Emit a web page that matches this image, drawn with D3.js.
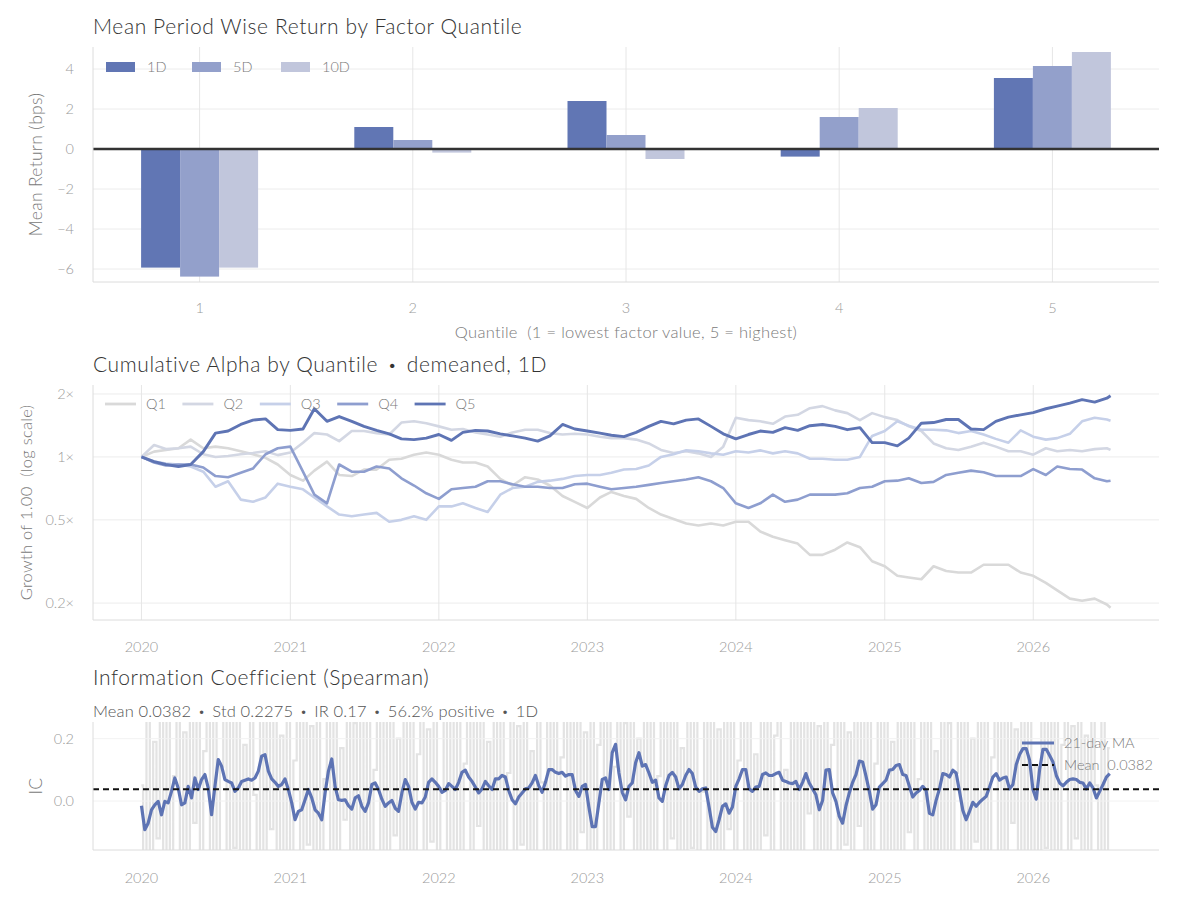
<!DOCTYPE html>
<html>
<head>
<meta charset="utf-8">
<script src="https://cdn.jsdelivr.net/npm/d3@7"></script>
<style>
  body { margin: 0; background: #fff; }
  svg text { font-family: Lato, Inter, sans-serif; font-weight: 300; white-space: pre; }
  svg tspan.dot { font-weight: 900; }
</style>
</head>
<body>
<svg id="chart" width="1177" height="903"></svg>
<script>
// ---------- data ----------
const quantiles = ["1", "2", "3", "4", "5"];
const periods = ["1D", "5D", "10D"];
const ret1D = [-5.93, 1.1, 2.4, -0.38, 3.55];
const ret5D = [-6.38, 0.45, 0.7, 1.6, 4.15];
const ret10D = [-5.93, -0.18, -0.5, 2.05, 4.85];
const barTicks = [-6, -4, -2, 0, 2, 4];

// cumulative alpha, sampled on the 1st of each month from Jan 2020 + last day
const cumDates = d3.timeMonth.range(new Date(2020, 0, 1), new Date(2026, 6, 2)).concat([new Date(2026, 6, 10)]);
const q1 = [1.00,1.06,1.08,1.10,1.21,1.10,1.12,1.10,1.065,1.03,0.99,0.92,0.82,0.77,0.86,0.95,0.82,0.81,0.87,0.87,
  0.97,0.98,1.025,1.05,1.025,0.97,0.94,0.94,0.90,0.785,0.73,0.80,0.78,0.73,0.65,0.61,0.57,0.64,0.68,
  0.65,0.63,0.57,0.53,0.505,0.48,0.47,0.48,0.47,0.49,0.49,0.44,0.415,0.40,0.385,0.34,0.34,0.36,0.39,0.37,
  0.317,0.30,0.27,0.265,0.26,0.30,0.285,0.28,0.28,0.305,0.305,0.305,0.28,0.27,0.25,0.23,0.21,0.205,0.21,0.197,0.19];
const q2 = [1.00,1.14,1.09,1.10,1.12,1.03,1.00,1.01,1.03,1.045,1.065,1.02,1.05,1.17,1.30,1.28,1.19,1.33,1.33,1.30,
  1.28,1.46,1.48,1.45,1.40,1.35,1.36,1.31,1.28,1.25,1.31,1.35,1.35,1.30,1.28,1.29,1.28,1.25,1.23,
  1.23,1.21,1.16,1.08,1.045,1.065,1.04,1.00,1.12,1.54,1.50,1.48,1.44,1.56,1.59,1.71,1.75,1.67,1.62,1.50,
  1.62,1.55,1.50,1.40,1.33,1.16,1.10,1.08,1.12,1.17,1.12,1.065,1.065,1.025,1.10,1.065,1.08,1.065,1.09,1.10,1.08];
const q3 = [1.00,0.95,0.93,0.92,0.90,0.85,0.72,0.765,0.625,0.61,0.64,0.745,0.72,0.70,0.64,0.58,0.53,0.52,0.53,0.54,
  0.49,0.50,0.52,0.50,0.58,0.58,0.60,0.57,0.545,0.66,0.71,0.72,0.76,0.77,0.785,0.81,0.82,0.82,0.84,
  0.87,0.875,0.91,1.00,1.03,1.075,1.065,1.04,1.025,1.065,1.05,1.075,1.04,1.065,1.04,0.98,0.98,0.97,0.97,1.00,
  1.26,1.33,1.48,1.41,1.35,1.35,1.34,1.30,1.33,1.28,1.22,1.17,1.34,1.25,1.21,1.23,1.29,1.48,1.54,1.51,1.49];
const q4 = [1.00,0.94,0.91,0.92,0.92,0.89,0.81,0.80,0.84,0.88,1.03,1.10,1.12,0.85,0.66,0.60,0.92,0.85,0.85,0.90,
  0.88,0.79,0.73,0.67,0.63,0.70,0.71,0.72,0.765,0.765,0.74,0.72,0.72,0.71,0.71,0.74,0.745,0.72,0.70,
  0.71,0.72,0.735,0.75,0.765,0.78,0.80,0.765,0.71,0.60,0.57,0.60,0.66,0.61,0.625,0.66,0.66,0.66,0.67,0.71,
  0.72,0.765,0.77,0.79,0.75,0.76,0.82,0.84,0.86,0.845,0.81,0.81,0.81,0.875,0.82,0.90,0.875,0.87,0.79,0.765,0.77];
const q5 = [1.00,0.95,0.92,0.90,0.92,1.06,1.30,1.33,1.43,1.50,1.52,1.35,1.34,1.36,1.70,1.48,1.56,1.48,1.40,1.34,
  1.29,1.22,1.21,1.23,1.28,1.20,1.31,1.34,1.33,1.29,1.26,1.23,1.19,1.26,1.43,1.36,1.33,1.30,1.27,
  1.25,1.31,1.40,1.48,1.44,1.50,1.52,1.40,1.29,1.22,1.28,1.33,1.31,1.38,1.34,1.41,1.43,1.40,1.35,1.38,
  1.17,1.17,1.13,1.23,1.45,1.46,1.51,1.51,1.36,1.35,1.48,1.55,1.59,1.63,1.70,1.75,1.81,1.88,1.83,1.91,1.96];
const cumSeries = [
  { name: "Q1", values: q1, color: "#d9d9d9" },
  { name: "Q2", values: q2, color: "#d3d7e3" },
  { name: "Q3", values: q3, color: "#c6d0e9" },
  { name: "Q4", values: q4, color: "#8e9ecf" },
  { name: "Q5", values: q5, color: "#5e74b4" }
];
const cumTicks = [0.2, 0.5, 1, 2];

// information coefficient, evenly spaced from 2020-01-01 to 2026-07-08
const icMA = [-0.015,-0.092,-0.071,-0.028,-0.012,-0.001,-0.044,-0.001,-0.006,0.031,0.074,0.042,-0.012,-0.006,0.047,0.010,0.074,0.037,0.069,0.085,
  0.042,-0.044,0.047,0.133,0.112,0.069,0.063,0.058,0.031,0.042,0.063,0.067,0.071,0.067,0.074,0.096,0.144,0.149,0.096,0.071,
  0.060,0.047,0.053,0.071,0.037,-0.006,-0.060,-0.033,-0.028,0.004,0.037,0.010,-0.028,-0.039,-0.060,0.026,0.096,0.135,0.047,0.004,
  0.002,0.004,-0.015,-0.026,0.010,0.017,-0.017,-0.033,-0.006,0.053,0.058,0.037,0.006,-0.017,-0.006,0.002,-0.023,-0.033,0.026,0.069,
  0.047,-0.004,-0.026,-0.004,-0.006,0.013,0.060,0.071,0.060,0.047,0.028,0.034,0.056,0.047,0.037,0.060,0.092,0.099,0.077,0.063,
  0.045,0.026,0.039,0.063,0.049,0.037,0.071,0.071,0.082,0.077,0.034,0.004,-0.009,0.013,0.026,0.039,0.042,0.058,0.082,0.049,
  0.028,0.060,0.101,0.101,0.092,0.088,0.092,0.080,0.085,0.085,0.034,0.015,0.047,0.053,-0.019,-0.082,-0.082,-0.006,0.069,0.074,
  0.037,0.155,0.182,0.090,0.028,0.004,0.047,
  0.058,0.123,0.155,0.112,0.117,0.090,0.060,0.067,0.010,-0.001,0.049,0.082,0.092,0.077,0.039,0.053,0.082,0.101,0.088,0.045,
  0.031,0.039,0.042,-0.019,-0.084,-0.098,-0.060,-0.017,-0.009,-0.039,-0.019,0.047,0.071,0.101,0.101,0.039,0.031,0.045,0.047,0.085,
  0.090,0.082,0.082,0.088,0.092,0.067,0.063,0.058,0.056,0.063,0.037,0.060,0.088,0.058,0.039,0.020,-0.028,0.002,0.099,0.101,
  0.026,-0.001,-0.049,-0.071,-0.015,0.026,0.060,0.085,0.128,0.125,0.080,0.031,-0.026,-0.012,0.045,0.056,0.067,0.099,0.101,0.114,
  0.117,0.085,0.082,0.047,0.013,0.026,0.034,0.047,0.034,-0.039,-0.044,0.002,0.039,0.088,0.085,0.077,0.099,0.090,0.031,-0.030,
  -0.060,-0.033,-0.004,-0.017,-0.004,0.006,0.015,0.045,0.077,0.088,0.067,0.074,0.077,0.039,0.053,0.117,0.149,0.168,0.168,0.131,
  0.037,0.006,0.101,0.166,0.166,0.146,0.125,0.082,0.058,0.049,0.060,0.069,0.071,0.069,0.060,0.058,0.039,0.058,0.042,0.010,
  0.031,0.053,0.077,0.088];
const icRaw = [0.05,-0.32,0.28,-0.41,0.19,-0.12,0.37,-0.29,0.44,-0.18,0.08,0.33,-0.36,0.22,-0.25,0.41,-0.07,0.30,-0.44,0.16,
  0.35,-0.21,0.47,-0.33,0.11,0.26,-0.39,0.32,-0.15,0.43,-0.28,0.18,-0.46,0.39,0.02,-0.24,0.34,-0.31,0.27,-0.09,
  0.45,-0.37,0.21,-0.19,0.38,-0.43,0.13,0.31,-0.27,0.49,-0.14,0.24,-0.34,0.36,-0.22,0.07,0.42,-0.30,0.29,-0.40,
  0.17,-0.06,0.40,-0.35,0.25,-0.26,0.46,-0.16,0.33,-0.42,0.10,0.37,-0.23,0.28,-0.38,0.44,-0.11,0.20,-0.31,0.35,
  -0.20,0.48,-0.36,0.15,0.30,-0.45,0.23,-0.13,0.41,-0.29,0.04,0.34,-0.40,0.27,-0.17,0.45,-0.33,0.12,0.39,-0.25,
  0.32,-0.08,0.43,-0.38,0.19,-0.28,0.36,-0.21,0.50,-0.34,0.09,0.29,-0.43,0.24,-0.14,0.40,-0.27,0.16,-0.37,0.33,
  0.06,-0.30,0.42,-0.19,0.27,-0.41,0.14,0.38,-0.24,0.31,-0.35,0.47,-0.10,0.22,-0.32,0.36,-0.44,0.18,0.26,-0.16,
  0.39,-0.27,0.11,0.45,-0.39,0.25,-0.05,0.34,-0.31,0.20,-0.42,0.43,-0.18,0.30,-0.26,0.08,0.37,-0.36,0.28,-0.12,
  0.46,-0.23,0.17,-0.40,0.35,-0.15,0.41,-0.33,0.03,0.29,-0.28,0.44,-0.20,0.23,-0.45,0.32,-0.09,0.38,-0.30,0.13,
  0.27,-0.37,0.49,-0.22,0.15,-0.34,0.40,-0.11,0.31,-0.43,0.21,0.36,-0.25,0.10,-0.38,0.45,-0.17,0.26,-0.29,0.42,
  -0.04,0.33,-0.41,0.24,-0.20,0.47,-0.32,0.18,0.30,-0.26,0.39,-0.14,0.22,-0.44,0.35,-0.08,0.28,-0.36,0.43,-0.21,
  0.12,0.37,-0.30,0.26,-0.45,0.19,-0.16,0.44,-0.27,0.34,-0.10,0.40,-0.38,0.07,0.31,-0.24,0.48,-0.33,0.16,-0.19,
  0.38,-0.28,0.25,-0.42,0.09,0.35,-0.22,0.46,-0.35,0.20,-0.13,0.41,-0.29,0.30,-0.40,0.14,0.37,-0.18,0.27,-0.31,
  0.44,-0.07,0.23,-0.37,0.32,-0.25,0.49,-0.20,0.11,-0.43,0.36,-0.15,0.29,-0.34,0.42,-0.26,0.18,0.33,-0.39,0.24,
  -0.12,0.40,-0.30,0.21,-0.46,0.34,0.05,-0.23,0.45,-0.36,0.17];
const icMean = 0.0382;
const icTicks = [0.0, 0.2];
const yearTicks = d3.range(2020, 2027).map(y => new Date(y, 0, 1));

// ---------- layout ----------
const svg = d3.select("#chart");
const left = 93, right = 1159;
const titleColor = "#333", tickColor = "#9a9a9a", labelColor = "#7a7a7a";
const gridColor = "#ececec", spineColor = "#dcdcdc";

// text with "·" separators drawn a little heavier
function dotted(sel, parts) {
  parts.forEach((p, i) => {
    if (i > 0) sel.append("tspan").attr("class", "dot").text("  \u00b7  ");
    sel.append("tspan").text(p);
  });
  return sel;
}
function title(parts, y) {
  const t = svg.append("text").attr("x", left).attr("y", y)
    .style("font-size", "21px").style("letter-spacing", "0.6px").style("fill", titleColor);
  dotted(t, parts);
}
function yLabel(txt, x, yMid, size) {
  svg.append("text").attr("transform", `translate(${x},${yMid}) rotate(-90)`)
    .attr("text-anchor", "middle").style("font-size", size + "px").style("letter-spacing", "0.3px")
    .style("fill", labelColor).text(txt);
}

// ===== Panel 1: mean period wise return =====
const p1 = { top: 47, bottom: 282 };
const x1 = d3.scaleBand().domain(quantiles).range([left, right]);
const xInner = d3.scaleBand().domain(periods).range([0, 117]);
const y1 = d3.scaleLinear().domain([-6.65, 5.1]).range([p1.bottom, p1.top]);
const barColor = d3.scaleOrdinal().domain(periods).range(["#6176b4", "#93a0cb", "#c1c6dc"]);

title(["Mean Period Wise Return by Factor Quantile"], 34);

svg.append("g").selectAll("line").data(barTicks).enter().append("line")
  .attr("x1", left).attr("x2", right)
  .attr("y1", d => y1(d)).attr("y2", d => y1(d))
  .attr("stroke", gridColor);
svg.append("g").selectAll("line").data(quantiles).enter().append("line")
  .attr("x1", d => x1(d) + x1.bandwidth() / 2).attr("x2", d => x1(d) + x1.bandwidth() / 2)
  .attr("y1", p1.top).attr("y2", p1.bottom)
  .attr("stroke", "#e6e6e6");

const barRows = quantiles.map((q, i) => ({ q, vals: [ret1D[i], ret5D[i], ret10D[i]] }));
svg.append("g").selectAll("g").data(barRows).enter().append("g")
  .attr("transform", d => `translate(${x1(d.q) + x1.bandwidth() / 2 - 58.5},0)`)
  .selectAll("rect").data(d => d.vals.map((v, j) => ({ p: periods[j], v })))
  .enter().append("rect")
  .attr("x", d => xInner(d.p))
  .attr("width", xInner.bandwidth())
  .attr("y", d => y1(Math.max(0, d.v)))
  .attr("height", d => Math.abs(y1(d.v) - y1(0)))
  .attr("fill", d => barColor(d.p));

svg.append("line").attr("x1", left).attr("x2", right)
  .attr("y1", y1(0)).attr("y2", y1(0))
  .attr("stroke", "#333").attr("stroke-width", 2.5);

// spines
function spines(top, bottom) {
  svg.append("line").attr("x1", left).attr("x2", left).attr("y1", top).attr("y2", bottom).attr("stroke", spineColor);
  svg.append("line").attr("x1", left).attr("x2", right).attr("y1", bottom).attr("y2", bottom).attr("stroke", spineColor);
}
spines(p1.top, p1.bottom);

svg.append("g").selectAll("text").data(barTicks).enter().append("text")
  .attr("x", 74).attr("y", d => y1(d)).attr("dy", "0.35em")
  .attr("text-anchor", "end").style("font-size", "14.5px").style("fill", tickColor)
  .text(d => d3.format("d")(d));
svg.append("g").selectAll("text").data(quantiles).enter().append("text")
  .attr("x", d => x1(d) + x1.bandwidth() / 2).attr("y", 313)
  .attr("text-anchor", "middle").style("font-size", "14.5px").style("fill", tickColor)
  .text(d => d);

svg.append("text").attr("x", (left + right) / 2).attr("y", 338)
  .attr("text-anchor", "middle").style("font-size", "16.5px").style("letter-spacing", "0.3px")
  .style("fill", labelColor)
  .text("Quantile  (1 = lowest factor value, 5 = highest)");
yLabel("Mean Return (bps)", 42, (p1.top + p1.bottom) / 2, 17.5);

// legend
const leg1X = [106, 192, 281];
periods.forEach((p, i) => {
  svg.append("rect").attr("x", leg1X[i]).attr("y", 62).attr("width", 29).attr("height", 10).attr("fill", barColor(p));
  svg.append("text").attr("x", leg1X[i] + 41).attr("y", 72)
    .style("font-size", "14.5px").style("fill", labelColor).text(p);
});

// ===== Panel 2: cumulative alpha =====
const p2 = { top: 385, bottom: 620 };
const t0 = cumDates[0], t1 = cumDates[cumDates.length - 1];
const pad = (t1 - t0) * 0.05;
const xTime = d3.scaleTime().domain([new Date(+t0 - pad), new Date(+t1 + pad)]).range([left, right]);
const y2 = d3.scaleLog().domain([0.166, 2.208]).range([p2.bottom, p2.top]);

title(["Cumulative Alpha by Quantile", "demeaned, 1D"], 372);

svg.append("g").selectAll("line").data(cumTicks).enter().append("line")
  .attr("x1", left).attr("x2", right).attr("y1", d => y2(d)).attr("y2", d => y2(d))
  .attr("stroke", gridColor);
svg.append("g").selectAll("line").data(yearTicks).enter().append("line")
  .attr("x1", d => xTime(d)).attr("x2", d => xTime(d)).attr("y1", p2.top).attr("y2", p2.bottom)
  .attr("stroke", "#e6e6e6");
spines(p2.top, p2.bottom);

svg.append("clipPath").attr("id", "clip2").append("rect")
  .attr("x", left).attr("y", p2.top).attr("width", right - left).attr("height", p2.bottom - p2.top);
const cumLine = d3.line().x((d, i) => xTime(cumDates[i])).y(d => y2(d));
svg.append("g").attr("clip-path", "url(#clip2)").selectAll("path").data(cumSeries).enter().append("path")
  .attr("d", d => cumLine(d.values))
  .attr("fill", "none").attr("stroke", d => d.color)
  .attr("stroke-width", d => d.name === "Q5" ? 2.9 : 2.6)
  .attr("stroke-linejoin", "round");

svg.append("g").selectAll("text").data(cumTicks).enter().append("text")
  .attr("x", 74).attr("y", d => y2(d)).attr("dy", "0.35em")
  .attr("text-anchor", "end").style("font-size", "14.5px").style("fill", tickColor)
  .text(d => d + "\u00d7");
svg.append("g").selectAll("text").data(yearTicks).enter().append("text")
  .attr("x", d => xTime(d)).attr("y", 652)
  .attr("text-anchor", "middle").style("font-size", "14.5px").style("fill", tickColor)
  .text(d => d.getFullYear());
yLabel("Growth of 1.00  (log scale)", 32, (p2.top + p2.bottom) / 2, 16.5);

cumSeries.forEach((s, i) => {
  const lx = 105 + i * 77.4;
  svg.append("line").attr("x1", lx).attr("x2", lx + 31).attr("y1", 404).attr("y2", 404)
    .attr("stroke", s.color).attr("stroke-width", 2.8);
  svg.append("text").attr("x", lx + 41).attr("y", 409)
    .style("font-size", "14.5px").style("fill", labelColor).text(s.name);
});

// ===== Panel 3: information coefficient =====
const p3 = { top: 722, bottom: 850 };
const y3 = d3.scaleLinear().domain([-0.157, 0.2535]).range([p3.bottom, p3.top]);
const ic0 = new Date(2020, 0, 1), ic1 = new Date(2026, 6, 8);
const icDates = icMA.map((d, i) => new Date(+ic0 + i * (ic1 - ic0) / (icMA.length - 1)));

title(["Information Coefficient (Spearman)"], 685);
dotted(svg.append("text").attr("x", left).attr("y", 717)
  .style("font-size", "16.5px").style("letter-spacing", "0.15px").style("fill", "#555"),
  ["Mean 0.0382", "Std 0.2275", "IR 0.17", "56.2% positive", "1D"]);

svg.append("clipPath").attr("id", "clip3").append("rect")
  .attr("x", left).attr("y", p3.top).attr("width", right - left).attr("height", p3.bottom - p3.top);
const g3 = svg.append("g").attr("clip-path", "url(#clip3)");

// raw daily IC: drawn as step segments so the strokes stand up as vertical lines
g3.append("path")
  .attr("d", d3.line().curve(d3.curveStep).x((d, i) => xTime(icDates[i])).y(d => y3(d))(icRaw))
  .attr("fill", "none").attr("stroke", "#e3e3e3").attr("stroke-width", 2.2);

g3.selectAll("line.grid").data(icTicks).enter().append("line")
  .attr("x1", left).attr("x2", right).attr("y1", d => y3(d)).attr("y2", d => y3(d))
  .attr("stroke", "#f2f2f2");

g3.append("path")
  .attr("d", d3.line().x((d, i) => xTime(icDates[i])).y(d => y3(d))(icMA))
  .attr("fill", "none").attr("stroke", "#5e74b4").attr("stroke-width", 3.2)
  .attr("stroke-linejoin", "round");

g3.append("line").attr("x1", left).attr("x2", right)
  .attr("y1", y3(icMean)).attr("y2", y3(icMean))
  .attr("stroke", "#111").attr("stroke-width", 2).attr("stroke-dasharray", "6,4");

spines(p3.top, p3.bottom);

svg.append("g").selectAll("text").data(icTicks).enter().append("text")
  .attr("x", 74).attr("y", d => y3(d)).attr("dy", "0.35em")
  .attr("text-anchor", "end").style("font-size", "14.5px").style("fill", tickColor)
  .text(d => d3.format(".1f")(d));
svg.append("g").selectAll("text").data(yearTicks).enter().append("text")
  .attr("x", d => xTime(d)).attr("y", 883)
  .attr("text-anchor", "middle").style("font-size", "14.5px").style("fill", tickColor)
  .text(d => d.getFullYear());
yLabel("IC", 42, (p3.top + p3.bottom) / 2, 17.5);

// legend
svg.append("line").attr("x1", 1022).attr("x2", 1054).attr("y1", 743).attr("y2", 743)
  .attr("stroke", "#5e74b4").attr("stroke-width", 3);
svg.append("text").attr("x", 1064).attr("y", 748)
  .style("font-size", "14.5px").style("fill", labelColor).text("21-day MA");
svg.append("line").attr("x1", 1022).attr("x2", 1054).attr("y1", 765).attr("y2", 765)
  .attr("stroke", "#111").attr("stroke-width", 2).attr("stroke-dasharray", "6,4");
svg.append("text").attr("x", 1064).attr("y", 770)
  .style("font-size", "14.5px").style("fill", labelColor).text("Mean  0.0382");
</script>
</body>
</html>
